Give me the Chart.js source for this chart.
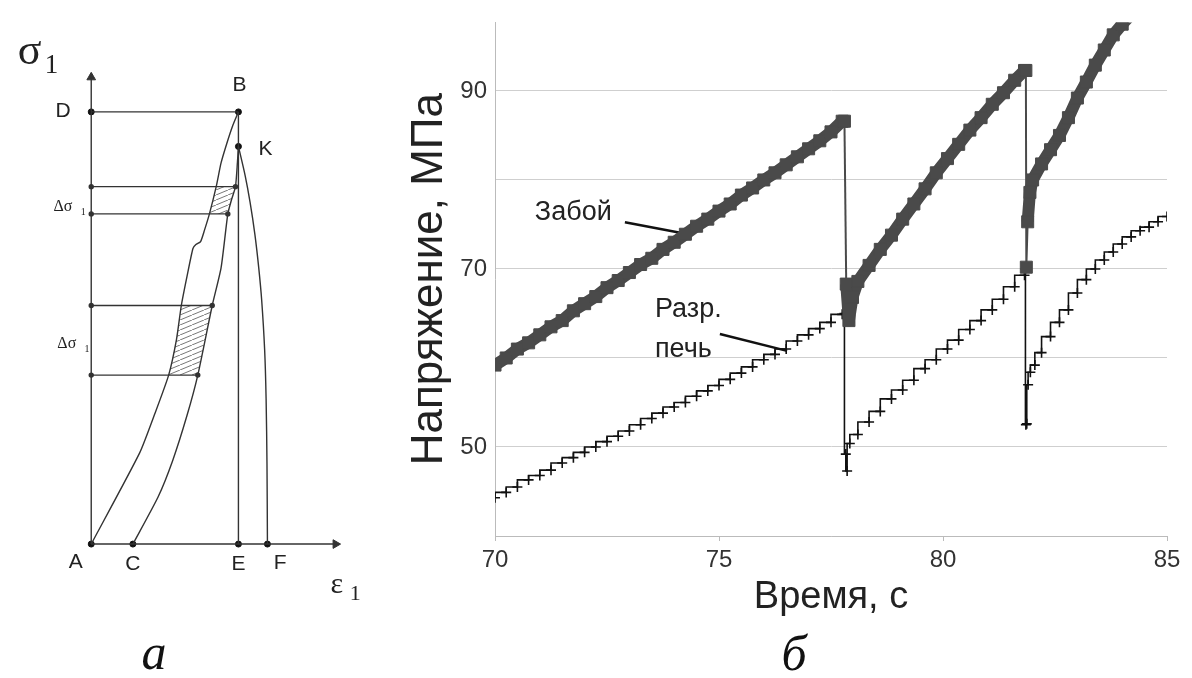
<!DOCTYPE html>
<html>
<head>
<meta charset="utf-8">
<script src="https://cdn.jsdelivr.net/npm/chart.js@4.4.1/dist/chart.umd.min.js"></script>
<style>
  html, body { margin: 0; padding: 0; background: #fff; overflow: hidden; }
  #wrap { position: relative; width: 1192px; height: 678px; }
  canvas { position: absolute; top: 0; }
  #diagram { left: 0; }
  #stress { left: 380px; }
  .panel { position: absolute; font: italic 50px 'Liberation Serif', 'Times New Roman', serif; color: #111;
           line-height: 1; transform: translate(-50%, -50%); }
</style>
</head>
<body>
<div id="wrap">
  <canvas id="diagram" width="380" height="678"></canvas>
  <canvas id="stress" width="812" height="678"></canvas>
  <div class="panel" style="left:154px; top:652px;">а</div>
  <div class="panel" style="left:794px; top:653px;">б</div>
</div>
<script>
// ---- panel a: schematic sigma-epsilon diagram (arbitrary units) ----
const curveAB = [[0, 0], [32.9, 21.1], [42.8, 29.8], [52.6, 39.1], [57.9, 47.3], [61.2, 55.2], [65.1, 62.0],
  [69.1, 68.4], [71.1, 69.3], [74.3, 70.0], [77.0, 72.7], [80.3, 76.4], [84.9, 82.7], [88.2, 88.2],
  [92.1, 92.7], [96.1, 96.8], [100, 100]];
const curveCK = [[28.3, 0], [45.4, 10.9], [55.3, 19.3], [65.1, 29.8], [72.4, 39.1], [82.2, 55.2],
  [88.2, 63.9], [92.8, 76.4], [95.4, 79.8], [98.0, 82.7], [99.3, 88.2], [100, 92]];
const curveKF = [[100, 92], [104.6, 85.2], [107.9, 79.1], [111.2, 71.6], [113.8, 63.9], [115.8, 56.4],
  [117.8, 45], [118.8, 33.6], [119.4, 18.4], [119.7, 0]];
const namedPoints = { A: [0, 0], C: [28.3, 0], E: [100, 0], F: [119.7, 0], D: [0, 100], B: [100, 100], K: [100, 92] };
const levels = [82.7, 76.4, 55.2, 39.1];
const levelEnds = [98.0, 92.8, 82.2, 72.4];
const hatchBands = [[76.4, 82.7], [39.1, 55.2]];
const axisEnd = { x: 166, y: 108 };

// ---- panel б: stress vs time ----
const zaboyTime = [70.00, 70.25, 70.50, 70.75, 71.00, 71.25, 71.50, 71.75, 72.00, 72.25, 72.50, 72.75,
  73.00, 73.25, 73.50, 73.75, 74.00, 74.25, 74.50, 74.75, 75.00, 75.25, 75.50, 75.75, 76.00, 76.25,
  76.50, 76.75, 77.00, 77.25, 77.50, 77.75, 77.80, 77.84, 77.90, 77.98, 78.10, 78.35, 78.60, 78.85,
  79.10, 79.35, 79.60, 79.85, 80.10, 80.35, 80.60, 80.85, 81.10, 81.35, 81.60, 81.82, 81.85, 81.86,
  81.89, 81.94, 82.00, 82.20, 82.40, 82.60, 82.80, 83.00, 83.20, 83.40, 83.60, 83.80, 84.00, 84.20];
const zaboyStress = [59.2, 60.0, 61.0, 61.7, 62.6, 63.5, 64.2, 65.3, 66.1, 66.9, 67.9, 68.7,
  69.6, 70.5, 71.2, 72.2, 73.0, 73.9, 74.8, 75.6, 76.5, 77.3, 78.3, 79.1, 80.0, 80.8,
  81.7, 82.6, 83.5, 84.4, 85.4, 86.6, 86.6, 68.3, 64.2, 66.8, 68.6, 70.4, 72.2, 73.8,
  75.6, 77.3, 79.0, 80.8, 82.4, 84.0, 85.6, 87.0, 88.5, 89.8, 91.2, 92.3, 92.3, 70.2,
  75.3, 78.6, 80.0, 81.8, 83.4, 85.0, 87.0, 89.2, 91.0, 92.9, 94.6, 96.3, 97.5, 98.6];
const pechTime = [70.00, 70.25, 70.50, 70.75, 71.00, 71.25, 71.50, 71.75, 72.00, 72.25, 72.50, 72.75,
  73.00, 73.25, 73.50, 73.75, 74.00, 74.25, 74.50, 74.75, 75.00, 75.25, 75.50, 75.75, 76.00, 76.25,
  76.50, 76.75, 77.00, 77.25, 77.50, 77.75, 77.80, 77.83, 77.86, 77.92, 78.10, 78.35, 78.60, 78.85,
  79.10, 79.35, 79.60, 79.85, 80.10, 80.35, 80.60, 80.85, 81.10, 81.35, 81.60, 81.82, 81.84, 81.85,
  81.87, 81.90, 81.95, 82.05, 82.20, 82.40, 82.60, 82.80, 83.00, 83.20, 83.40, 83.60, 83.80, 84.00,
  84.20, 84.40, 84.60, 84.80, 85.00];
const pechStress = [44.3, 44.9, 45.5, 46.3, 46.8, 47.4, 48.2, 48.8, 49.4, 50.0, 50.6, 51.2,
  51.8, 52.5, 53.2, 53.8, 54.5, 55.0, 55.7, 56.3, 56.9, 57.6, 58.3, 59.0, 59.8, 60.4,
  61.0, 61.9, 62.6, 63.3, 64.0, 64.9, 65.0, 49.2, 47.3, 50.4, 51.4, 52.8, 54.0, 55.4,
  56.4, 57.5, 58.8, 59.8, 61.0, 62.0, 63.2, 64.2, 65.4, 66.6, 68.0, 69.3, 70.0, 52.5,
  52.6, 57.0, 58.4, 59.2, 60.6, 62.4, 64.0, 65.4, 67.3, 68.8, 70.0, 71.0, 71.9, 72.8,
  73.6, 74.3, 74.7, 75.3, 75.9];
const timeTicks = [70, 75, 80, 85];
const stressTicks = [50, 70, 90];

Chart.defaults.font.family = "'Liberation Sans', Arial, sans-serif";
Chart.defaults.color = '#222';

const ink = '#333';
const serif = "'Liberation Serif', 'Times New Roman', serif";
const sans = "'Liberation Sans', Arial, sans-serif";
const xy = pts => pts.map(p => ({ x: p[0], y: p[1] }));

function hatchPattern() {
    const c = document.createElement('canvas');
    c.width = 12; c.height = 5;
    const g = c.getContext('2d');
    g.strokeStyle = '#555';
    g.lineWidth = 0.8;
    g.beginPath();
    g.moveTo(0, 5); g.lineTo(12, 0);
    g.stroke();
    return g.createPattern(c, 'repeat');
}

function line(pts, extra) {
    return Object.assign({
        data: xy(pts), showLine: true, borderColor: ink, borderWidth: 1.4,
        pointRadius: 0, fill: false, tension: 0
    }, extra || {});
}

function band(lo, hi) {
    const left = curveAB.filter(p => p[1] >= lo && p[1] <= hi);
    const right = curveCK.filter(p => p[1] >= lo && p[1] <= hi).reverse();
    return left.concat(right);
}

const diagramSets = [
    line(curveAB, { tension: 0.2 }),
    line(curveCK, { tension: 0.2 }),
    line(curveKF, { tension: 0.3 }),
    line([[0, 0], [axisEnd.x, 0]]),
    line([[0, 0], [0, axisEnd.y]]),
    line([namedPoints.D, namedPoints.B]),
    line([namedPoints.B, namedPoints.E])
];
levels.forEach((lv, i) => {
    diagramSets.push(line([[0, lv], [levelEnds[i], lv]], { pointRadius: 2, pointBackgroundColor: ink, pointBorderColor: ink }));
});
const pattern = hatchPattern();
hatchBands.forEach(b => {
    diagramSets.push(line(band(b[0], b[1]), { borderWidth: 0, fill: 'shape', backgroundColor: pattern }));
});
diagramSets.push({ data: [{ x: axisEnd.x, y: 0 }], pointStyle: 'triangle', rotation: 90, pointRadius: 5,
    backgroundColor: ink, borderColor: ink });
diagramSets.push({ data: [{ x: 0, y: axisEnd.y }], pointStyle: 'triangle', rotation: 0, pointRadius: 5,
    backgroundColor: ink, borderColor: ink });
diagramSets.push({ data: xy(Object.values(namedPoints)), pointRadius: 3, backgroundColor: '#111', borderColor: '#111' });

// label placement for panel a (same units as the curves)
const diagramText = [
    { t: 'σ', x: -50.0, y: 111.1, size: 44, font: serif, align: 'left' },
    { t: '1', x: -31.6, y: 108.9, size: 27, font: serif, align: 'left' },
    { t: 'D', x: -19.1, y: 98.9, size: 21 },
    { t: 'B', x: 100.7, y: 104.8, size: 21 },
    { t: 'K', x: 118.4, y: 90.0, size: 21 },
    { t: 'Δσ', x: -25.7, y: 77.0, size: 16, font: serif, align: 'left' },
    { t: '1', x: -7.2, y: 76.1, size: 10, font: serif, align: 'left' },
    { t: 'Δσ', x: -23.0, y: 45.4, size: 16, font: serif, align: 'left' },
    { t: '1', x: -4.5, y: 44.5, size: 10, font: serif, align: 'left' },
    { t: 'A', x: -10.5, y: -5.5, size: 21 },
    { t: 'C', x: 28.3, y: -6.1, size: 21 },
    { t: 'E', x: 100, y: -6.1, size: 21 },
    { t: 'F', x: 128.3, y: -5.7, size: 21 },
    { t: 'ε', x: 162.5, y: -11.4, size: 30, font: serif, align: 'left' },
    { t: '1', x: 175.7, y: -13.0, size: 22, font: serif, align: 'left' }
];

const textPlugin = {
    id: 'textMarks',
    afterDatasetsDraw(chart) {
        const { ctx, scales: { x, y } } = chart;
        const items = chart.options.plugins.textMarks.items;
        ctx.save();
        ctx.fillStyle = '#222';
        ctx.textBaseline = 'alphabetic';
        items.forEach(it => {
            ctx.font = it.size + 'px ' + (it.font || sans);
            ctx.textAlign = it.align || 'center';
            ctx.fillText(it.t, x.getPixelForValue(it.x), y.getPixelForValue(it.y));
        });
        ctx.restore();
    }
};

new Chart(document.getElementById('diagram'), {
    type: 'scatter',
    data: { datasets: diagramSets },
    plugins: [textPlugin],
    options: {
        responsive: false,
        animation: false,
        layout: { padding: 0 },
        plugins: {
            legend: { display: false },
            tooltip: { enabled: false },
            textMarks: { items: diagramText }
        },
        scales: {
            x: { type: 'linear', display: false, min: -57.9, max: 192.1 },
            y: { type: 'linear', display: false, min: -29.6, max: 124.5 }
        }
    }
});

// ---- panel б ----
const curveNotes = [
    { t: 'Забой', x: 70.89, y: 75.46, size: 27, align: 'left' },
    { t: 'Разр.', x: 73.57, y: 64.56, size: 27, align: 'left' },
    { t: 'печь', x: 73.57, y: 60.15, size: 27, align: 'left' }
];
const leaders = [[[72.90, 75.24], [74.31, 73.9]], [[75.02, 62.7], [76.52, 60.8]]];

// thick band along the ramps, thin line on the sudden drops
const zaboyWidth = ctx => {
    const dx = ctx.p1.parsed.x - ctx.p0.parsed.x;
    const dy = Math.abs(ctx.p1.parsed.y - ctx.p0.parsed.y);
    return dy / Math.max(dx, 1e-6) > 100 ? 2 : 12;
};

const stressSets = [
    {
        label: 'Забой',
        data: zaboyTime.map((t, i) => ({ x: t, y: zaboyStress[i] })),
        showLine: true,
        borderColor: '#4a4a4a',
        borderWidth: 2,
        borderJoinStyle: 'round',
        segment: { borderWidth: zaboyWidth },
        pointStyle: 'rect',
        pointRadius: 8.5,
        pointBackgroundColor: '#4a4a4a',
        pointBorderColor: '#4a4a4a',
        pointBorderWidth: 1
    },
    {
        label: 'Разр. печь',
        data: pechTime.map((t, i) => ({ x: t, y: pechStress[i] })),
        showLine: true,
        stepped: 'after',
        borderColor: '#111',
        borderWidth: 1.6,
        pointStyle: 'cross',
        pointRadius: 5,
        pointBorderColor: '#111',
        pointBorderWidth: 1.6
    }
];
leaders.forEach(l => {
    stressSets.push({ data: xy(l), showLine: true, borderColor: '#111', borderWidth: 2.5, pointRadius: 0 });
});

new Chart(document.getElementById('stress'), {
    type: 'scatter',
    data: { datasets: stressSets },
    plugins: [textPlugin],
    options: {
        responsive: false,
        animation: false,
        layout: { padding: { left: 0, top: 12, right: 25, bottom: 0 } },
        plugins: {
            legend: { display: false },
            tooltip: { enabled: false },
            textMarks: { items: curveNotes }
        },
        scales: {
            x: {
                type: 'linear',
                min: timeTicks[0],
                max: timeTicks[timeTicks.length - 1],
                afterBuildTicks: scale => { scale.ticks = timeTicks.map(v => ({ value: v })); },
                ticks: { font: { size: 24 }, color: '#333', padding: 5 },
                grid: { drawOnChartArea: false, drawTicks: true, tickLength: 5, color: '#bbb' },
                border: { color: '#bbb' },
                title: {
                    display: true,
                    text: 'Время, с',
                    font: { size: 38 },
                    color: '#222',
                    padding: { top: 0, bottom: 58 }
                },
                afterFit: scale => { scale.height = 142; }
            },
            y: {
                type: 'linear',
                min: 40,
                max: 97.7,
                ticks: {
                    stepSize: 10,
                    includeBounds: false,
                    font: { size: 24 },
                    color: '#333',
                    padding: 8,
                    callback: value => stressTicks.includes(value) ? String(value) : ''
                },
                grid: { color: '#cfcfcf', drawTicks: false },
                border: { color: '#bbb' },
                title: {
                    display: true,
                    text: 'Напряжение, МПа',
                    font: { size: 44 },
                    color: '#222',
                    padding: { top: 23.6, bottom: 0 }
                },
                afterFit: scale => { scale.width = 115; }
            }
        }
    }
});
</script>
</body>
</html>
